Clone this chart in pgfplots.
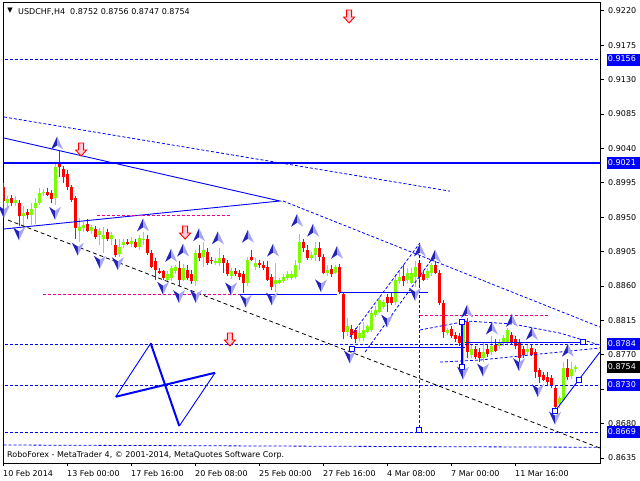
\documentclass[border=0pt]{standalone}
\usepackage{fontspec}
\setmainfont{DejaVu Sans}
\usepackage{pgfplots}
\usepackage{pgfplotstable}
\pgfplotsset{compat=1.18}

\definecolor{cgreen}{RGB}{124,252,0}
\definecolor{cred}{RGB}{255,0,0}
\definecolor{mtblue}{RGB}{0,0,255}
\definecolor{fdark}{RGB}{35,35,185}
\definecolor{flight}{RGB}{165,165,245}
\definecolor{pinkfill}{RGB}{255,205,215}

\pgfdeclareplotmark{fup}{%
 \pgfpathmoveto{\pgfqpoint{0pt}{6.5pt}}\pgfpathlineto{\pgfqpoint{-6pt}{-6.5pt}}\pgfpathlineto{\pgfqpoint{0pt}{-2.5pt}}\pgfpathclose
 \pgfsetfillcolor{fdark}\pgfusepath{fill}%
 \pgfpathmoveto{\pgfqpoint{0pt}{6.5pt}}\pgfpathlineto{\pgfqpoint{6pt}{-6.5pt}}\pgfpathlineto{\pgfqpoint{0pt}{-2.5pt}}\pgfpathclose
 \pgfsetfillcolor{flight}\pgfusepath{fill}}
\pgfdeclareplotmark{fdown}{%
 \pgfpathmoveto{\pgfqpoint{0pt}{-6.5pt}}\pgfpathlineto{\pgfqpoint{-6pt}{6.5pt}}\pgfpathlineto{\pgfqpoint{0pt}{2.5pt}}\pgfpathclose
 \pgfsetfillcolor{fdark}\pgfusepath{fill}%
 \pgfpathmoveto{\pgfqpoint{0pt}{-6.5pt}}\pgfpathlineto{\pgfqpoint{6pt}{6.5pt}}\pgfpathlineto{\pgfqpoint{0pt}{2.5pt}}\pgfpathclose
 \pgfsetfillcolor{flight}\pgfusepath{fill}}
\pgfdeclareplotmark{sell}{%
 \pgfpathmoveto{\pgfqpoint{-2.5pt}{7pt}}\pgfpathlineto{\pgfqpoint{2.5pt}{7pt}}\pgfpathlineto{\pgfqpoint{2.5pt}{0pt}}%
 \pgfpathlineto{\pgfqpoint{5.5pt}{0pt}}\pgfpathlineto{\pgfqpoint{0pt}{-6pt}}\pgfpathlineto{\pgfqpoint{-5.5pt}{0pt}}%
 \pgfpathlineto{\pgfqpoint{-2.5pt}{0pt}}\pgfpathclose
 \pgfsetfillcolor{pinkfill}\pgfsetstrokecolor{cred}\pgfsetlinewidth{0.9pt}\pgfusepath{fill,stroke}}

\newcommand{\bl}[1]{{\setlength{\fboxsep}{1.2pt}\colorbox{mtblue}{\rule[-2.5pt]{0pt}{9.5pt}\makebox[32pt][l]{\color{white}#1}}}}
\newcommand{\bk}[1]{{\setlength{\fboxsep}{1.2pt}\colorbox{black}{\rule[-2.5pt]{0pt}{9.5pt}\makebox[32pt][l]{\color{white}#1}}}}

\pgfplotstableread{
n o h l c
1 0.8969 0.8978 0.8960 0.8974
3 0.8969 0.8977 0.8965 0.8973
5 0.8952 0.8965 0.8934 0.8956
7 0.8953 0.8969 0.8940 0.8961
8 0.8962 0.8975 0.8941 0.8969
9 0.8969 0.8988 0.8966 0.8982
10 0.8981 0.8987 0.8977 0.8983
13 0.8975 0.9021 0.8966 0.9016
19 0.8932 0.8949 0.8917 0.8937
20 0.8936 0.8944 0.8931 0.8940
22 0.8932 0.8940 0.8928 0.8937
24 0.8926 0.8936 0.8914 0.8932
25 0.8921 0.8937 0.8903 0.8927
27 0.8921 0.8930 0.8914 0.8926
29 0.8902 0.8921 0.8898 0.8911
30 0.8914 0.8921 0.8910 0.8918
32 0.8915 0.8924 0.8911 0.8919
34 0.8911 0.8926 0.8907 0.8923
35 0.8921 0.8930 0.8914 0.8922
41 0.8868 0.8879 0.8866 0.8875
42 0.8871 0.8886 0.8867 0.8884
43 0.8879 0.8888 0.8876 0.8885
45 0.8868 0.8889 0.8866 0.8884
48 0.8866 0.8907 0.8860 0.8903
50 0.8898 0.8918 0.8885 0.8907
53 0.8890 0.8896 0.8888 0.8893
54 0.8890 0.8909 0.8886 0.8897
57 0.8873 0.8884 0.8869 0.8879
61 0.8864 0.8898 0.8860 0.8894
63 0.8885 0.8897 0.8881 0.8890
68 0.8862 0.8890 0.8852 0.8868
69 0.8864 0.8871 0.8862 0.8868
70 0.8867 0.8876 0.8864 0.8872
71 0.8871 0.8879 0.8868 0.8875
72 0.8871 0.8879 0.8868 0.8876
73 0.8872 0.8894 0.8869 0.8888
74 0.8890 0.8928 0.8881 0.8918
77 0.8897 0.8905 0.8894 0.8901
78 0.8900 0.8917 0.8892 0.8909
81 0.8877 0.8887 0.8873 0.8881
83 0.8877 0.8888 0.8875 0.8885
86 0.8800 0.8818 0.8794 0.8807
89 0.8792 0.8807 0.8788 0.8799
90 0.8792 0.8813 0.8788 0.8803
91 0.8800 0.8809 0.8798 0.8807
92 0.8803 0.8828 0.8800 0.8825
93 0.8822 0.8834 0.8820 0.8829
94 0.8826 0.8845 0.8824 0.8842
95 0.8833 0.8842 0.8830 0.8839
98 0.8839 0.8875 0.8835 0.8868
99 0.8866 0.8881 0.8863 0.8872
101 0.8868 0.8884 0.8864 0.8877
102 0.8864 0.8884 0.8862 0.8877
103 0.8872 0.8892 0.8859 0.8885
106 0.8871 0.8884 0.8868 0.8879
107 0.8877 0.8890 0.8873 0.8888
111 0.8799 0.8805 0.8796 0.8803
115 0.8786 0.8816 0.8753 0.8813
117 0.8770 0.8783 0.8766 0.8777
120 0.8766 0.8787 0.8760 0.8774
122 0.8774 0.8795 0.8770 0.8782
124 0.8781 0.8790 0.8777 0.8787
125 0.8786 0.8796 0.8782 0.8792
126 0.8786 0.8805 0.8783 0.8803
131 0.8773 0.8783 0.8769 0.8778
139 0.8705 0.8716 0.8701 0.8714
140 0.8711 0.8761 0.8709 0.8753
142 0.8742 0.8760 0.8738 0.8752
143 0.8752 0.8756 0.8747 0.8754
}\upc

\pgfplotstableread{
n o h l c
0 0.8990 0.8994 0.8957 0.8971
2 0.8975 0.8979 0.8964 0.8969
4 0.8968 0.8973 0.8939 0.8951
6 0.8957 0.8961 0.8947 0.8953
11 0.8983 0.8988 0.8977 0.8979
12 0.8982 0.8986 0.8968 0.8974
14 0.9019 0.9037 0.9003 0.9015
15 0.9013 0.9017 0.8994 0.9003
16 0.9007 0.9011 0.8986 0.8990
17 0.8990 0.8992 0.8970 0.8973
18 0.8975 0.8978 0.8921 0.8936
21 0.8941 0.8947 0.8930 0.8932
23 0.8935 0.8939 0.8921 0.8924
26 0.8930 0.8934 0.8919 0.8922
28 0.8913 0.8921 0.8898 0.8901
31 0.8918 0.8922 0.8913 0.8915
33 0.8918 0.8922 0.8909 0.8911
36 0.8922 0.8926 0.8901 0.8903
37 0.8903 0.8907 0.8884 0.8885
38 0.8892 0.8897 0.8868 0.8881
39 0.8880 0.8884 0.8875 0.8877
40 0.8879 0.8881 0.8868 0.8871
44 0.8884 0.8892 0.8860 0.8868
46 0.8881 0.8887 0.8868 0.8871
47 0.8875 0.8881 0.8863 0.8866
49 0.8903 0.8913 0.8892 0.8897
51 0.8905 0.8910 0.8888 0.8890
52 0.8894 0.8898 0.8889 0.8892
55 0.8897 0.8901 0.8877 0.8890
56 0.8890 0.8894 0.8873 0.8876
58 0.8880 0.8884 0.8873 0.8876
59 0.8877 0.8881 0.8868 0.8872
60 0.8875 0.8879 0.8851 0.8864
62 0.8898 0.8907 0.8892 0.8894
64 0.8890 0.8894 0.8884 0.8888
65 0.8888 0.8892 0.8881 0.8884
66 0.8885 0.8892 0.8866 0.8868
67 0.8872 0.8876 0.8855 0.8859
75 0.8918 0.8922 0.8905 0.8909
76 0.8907 0.8914 0.8894 0.8897
79 0.8909 0.8917 0.8892 0.8898
80 0.8898 0.8902 0.8875 0.8877
82 0.8882 0.8887 0.8872 0.8875
84 0.8885 0.8889 0.8850 0.8852
85 0.8850 0.8852 0.8790 0.8800
87 0.8804 0.8809 0.8790 0.8796
88 0.8803 0.8805 0.8786 0.8790
96 0.8845 0.8849 0.8826 0.8838
97 0.8845 0.8852 0.8835 0.8838
100 0.8873 0.8888 0.8860 0.8867
104 0.8890 0.8894 0.8858 0.8872
105 0.8875 0.8879 0.8866 0.8868
108 0.8888 0.8892 0.8875 0.8877
109 0.8877 0.8881 0.8835 0.8838
110 0.8838 0.8842 0.8792 0.8800
112 0.8804 0.8808 0.8792 0.8795
113 0.8796 0.8800 0.8787 0.8790
114 0.8794 0.8798 0.8781 0.8786
116 0.8813 0.8818 0.8766 0.8774
118 0.8777 0.8781 0.8764 0.8767
119 0.8774 0.8779 0.8761 0.8766
121 0.8777 0.8783 0.8767 0.8771
123 0.8783 0.8790 0.8774 0.8775
127 0.8796 0.8800 0.8783 0.8786
128 0.8790 0.8794 0.8777 0.8781
129 0.8786 0.8790 0.8761 0.8766
130 0.8778 0.8782 0.8766 0.8770
132 0.8779 0.8783 0.8769 0.8770
133 0.8774 0.8777 0.8740 0.8748
134 0.8750 0.8753 0.8733 0.8741
135 0.8744 0.8748 0.8736 0.8737
136 0.8741 0.8748 0.8731 0.8735
137 0.8740 0.8744 0.8727 0.8730
138 0.8727 0.8731 0.8698 0.8702
141 0.8753 0.8764 0.8737 0.8741
}\downc

\begin{document}
\begin{tikzpicture}
\useasboundingbox (-3pt,-17pt) rectangle (637pt,463pt);
\begin{axis}[
  at={(0pt,0pt)}, anchor=south west,
  scale only axis, width=597.5pt, height=461pt,
  xmin=-0.125, xmax=149.25,
  ymin=0.862845, ymax=0.923138,
  axis line style={black, line width=0.9pt},
  tick align=outside, major tick length=3pt,
  tick style={black, line width=0.8pt},
  xtick pos=bottom, ytick pos=right,
  yticklabel pos=right,
  xtick={0,16,...,128},
  xticklabels={10 Feb 2014,13 Feb 00:00,17 Feb 16:00,20 Feb 08:00,25 Feb 00:00,27 Feb 16:00,4 Mar 08:00,7 Mar 00:00,11 Mar 16:00},
  ytick={0.8635,0.8680,0.8725,0.8770,0.8815,0.8860,0.8905,0.8950,0.8995,0.9040,0.9085,0.9130,0.9175,0.9220},
  yticklabels={0.8635,0.8680,{},0.8770,0.8815,0.8860,0.8905,0.8950,0.8995,0.9040,0.9085,0.9130,0.9175,0.9220},
  every tick label/.append style={font=\fontsize{8}{9.6}\selectfont, inner sep=0pt},
  yticklabel style={anchor=west, xshift=4.5pt},
  xticklabel style={anchor=north west, yshift=-4pt, xshift=-0.5pt},
  extra y ticks={0.9156,0.9021,0.8784,0.8754,0.8730,0.8669},
  extra y tick labels={\bl{0.9156},\bl{0.9021},\bl{0.8784},\bk{0.8754},\bl{0.8730},\bl{0.8669}},
  extra y tick style={yticklabel style={anchor=west, xshift=1.5pt}, major tick length=0pt},
  mtdash/.style={mtblue, line width=0.8pt, dash pattern=on 3pt off 2pt},
  mtsolid/.style={mtblue, line width=0.9pt},
]
% candles: wicks then bodies
\addplot[mark=none, draw=none, forget plot, error bars/.cd, y dir=plus, y explicit, error mark=none,
  error bar style={draw=cgreen, line width=1pt}]
  table[x=n, y=l, y error plus expr=\thisrow{h}-\thisrow{l}] {\upc};
\addplot[mark=none, draw=none, forget plot, error bars/.cd, y dir=plus, y explicit, error mark=none,
  error bar style={draw=cgreen, line width=3pt}]
  table[x=n, y=o, y error plus expr=\thisrow{c}-\thisrow{o}] {\upc};
\addplot[mark=none, draw=none, forget plot, error bars/.cd, y dir=plus, y explicit, error mark=none,
  error bar style={draw=cred, line width=1pt}]
  table[x=n, y=l, y error plus expr=\thisrow{h}-\thisrow{l}] {\downc};
\addplot[mark=none, draw=none, forget plot, error bars/.cd, y dir=plus, y explicit, error mark=none,
  error bar style={draw=cred, line width=3pt}]
  table[x=n, y=c, y error plus expr=\thisrow{o}-\thisrow{c}] {\downc};

% horizontal levels
\addplot[mtdash, forget plot] coordinates {(-1,0.9156) (150,0.9156)};
\addplot[mtblue, line width=2.2pt, forget plot] coordinates {(-1,0.9021) (150,0.9021)};
\addplot[mtdash, forget plot] coordinates {(-1,0.8784) (150,0.8784)};
\addplot[mtdash, forget plot] coordinates {(-1,0.8730) (150,0.8730)};
\addplot[mtdash, forget plot] coordinates {(-1,0.8669) (150,0.8669)};
\addplot[mtdash, forget plot] coordinates {(0,0.8652) (150,0.8649)};
% trend lines
\addplot[mtdash, forget plot] coordinates {(0.125,0.9081) (111.6,0.8984)};
\addplot[mtsolid, forget plot] coordinates {(0.125,0.90535) (69.1,0.89711) (0.125,0.89345)};
\addplot[magenta, line width=0.8pt, dash pattern=on 3pt off 2pt, forget plot] coordinates {(23.4,0.89528) (57.1,0.89528)};
\addplot[magenta, line width=0.8pt, dash pattern=on 3pt off 2pt, forget plot] coordinates {(9.9,0.88494) (59.1,0.88494)};
\addplot[mtsolid, forget plot] coordinates {(59.1,0.88494) (83.4,0.88494)};
\addplot[mtsolid, forget plot] coordinates {(84.1,0.88521) (106.1,0.88521)};
\addplot[black, line width=0.8pt, dash pattern=on 4pt off 3pt, forget plot] coordinates {(1.125,0.89462) (149.1,0.8648)};
\addplot[mtdash, forget plot] coordinates {(69.9,0.89711) (149.1,0.88063)};
\addplot[mtdash, forget plot] coordinates {(86.6,0.87932) (104.1,0.89162)};
\addplot[mtdash, forget plot] coordinates {(90.4,0.87736) (106.6,0.88913)};
\addplot[mtdash, forget plot] coordinates {(103.9,0.8907) (103.9,0.86716)};
\addplot[magenta, line width=0.8pt, dash pattern=on 3pt off 2pt, forget plot] coordinates {(104.1,0.8822) (136.1,0.8822)};
\addplot[mtsolid, forget plot] coordinates {(87.1,0.87801) (115.4,0.87801)};
\addplot[mtsolid, forget plot] coordinates {(115.4,0.8786) (144.9,0.8786)};
\addplot[mtdash, forget plot] coordinates {(104.1,0.88024) (115.9,0.88141) (127.4,0.88102) (139.1,0.87984) (149.1,0.87827)};
\addplot[mtdash, forget plot] coordinates {(109.1,0.87605) (119.1,0.87631) (129.1,0.87684) (139.1,0.87736) (149.1,0.87788)};
\addplot[mtsolid, line width=1.4pt, forget plot] coordinates {(114.6,0.88128) (114.6,0.8754)};
\addplot[mtsolid, forget plot] coordinates {(137.9,0.86964) (149.1,0.87736)};
% bow-tie
\addplot[mtsolid, forget plot] coordinates {(28.05,0.87151) (36.8,0.87850)};
\addplot[mtblue, line width=2pt, forget plot] coordinates {(36.8,0.87850) (43.95,0.86768)};
\addplot[mtsolid, forget plot] coordinates {(43.95,0.86768) (52.9,0.87465)};
\addplot[mtblue, line width=2pt, forget plot] coordinates {(52.9,0.87465) (28.05,0.87151)};
% squares
\addplot[only marks, mark=square*, mark size=2.6pt, mark options={draw=mtblue, fill=white, line width=0.9pt}, forget plot]
  coordinates {(87.1,0.87775) (103.9,0.86716) (114.6,0.88128) (114.6,0.8754) (144.9,0.87867) (143.9,0.8737) (137.9,0.86964)};
% sell arrows
\addplot[only marks, mark=sell, forget plot] coordinates {(19.4,0.90378) (45.4,0.89292) (56.6,0.87893) (86.4,0.92118)};
% fractals
\addplot[only marks, mark=fup, forget plot] coordinates {
(13.4,0.9047) (34.9,0.8940) (41.9,0.8900) (44.9,0.8907) (48.9,0.8927) (53.6,0.8923) (61.1,0.8925)
(67.4,0.8907) (73.4,0.8946) (77.4,0.8933) (83.4,0.8904) (104.1,0.8907) (107.9,0.8899)
(115.9,0.8827) (122.1,0.8805) (127.1,0.8815) (132.1,0.8798) (141.1,0.8776)};
\addplot[only marks, mark=fdown, forget plot] coordinates {
(0.1,0.8957) (3.9,0.8928) (12.9,0.8955) (18.6,0.8908) (24.1,0.8891) (28.6,0.8889) (39.9,0.8857)
(43.9,0.8846) (48.1,0.8846) (56.9,0.8856) (60.6,0.8840) (67.1,0.8843) (79.4,0.8860) (86.6,0.8767)
(95.9,0.8814) (102.9,0.8849) (114.9,0.8746) (119.9,0.8750) (128.9,0.8757) (133.6,0.8723) (137.9,0.8687)};
\end{axis}
\node[anchor=center, inner sep=0pt, font=\fontsize{7}{8}\selectfont] at (7pt,452pt) {▼};
\node[anchor=base west, inner sep=0pt, font=\fontsize{8}{9.6}\selectfont] at (15pt,448pt) {USDCHF,H4\ \ 0.8752 0.8756 0.8747 0.8754};
\node[anchor=base west, inner sep=0pt, font=\fontsize{8}{9.6}\selectfont] at (4pt,6pt) {RoboForex - MetaTrader 4, © 2001-2014, MetaQuotes Software Corp.};
\end{tikzpicture}
\end{document}
